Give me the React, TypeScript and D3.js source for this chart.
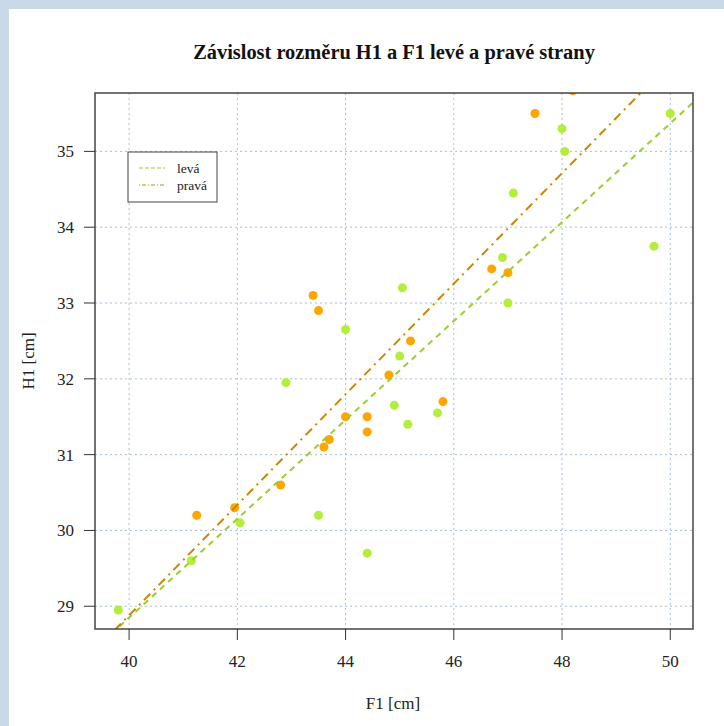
import * as d3 from 'd3'

// levá (left side) measurements
const leftF1 = [39.8, 41.15, 42.05, 42.9, 43.5, 44.0, 44.4, 44.9, 45.0, 45.05, 45.15, 45.7, 46.9, 47.0, 47.1, 48.0, 48.05, 49.7, 50.0]
const leftH1 = [28.95, 29.6, 30.1, 31.95, 30.2, 32.65, 29.7, 31.65, 32.3, 33.2, 31.4, 31.55, 33.6, 33.0, 34.45, 35.3, 35.0, 33.75, 35.5]

// pravá (right side) measurements
const rightF1 = [41.25, 41.95, 42.8, 43.4, 43.5, 43.6, 43.7, 44.0, 44.4, 44.4, 44.8, 45.2, 45.8, 46.7, 47.0, 47.5, 48.2]
const rightH1 = [30.2, 30.3, 30.6, 33.1, 32.9, 31.1, 31.2, 31.5, 31.5, 31.3, 32.05, 32.5, 31.7, 33.45, 33.4, 35.5, 35.8]

// regression lines: [intercept, slope]
const leftFit = [2.77, 0.652]
const rightFit = [-0.28, 0.729]

const xTicks = [40, 42, 44, 46, 48, 50]
const yTicks = [29, 30, 31, 32, 33, 34, 35]
const seriesNames = ['levá', 'pravá']

const W = 724
const H = 726
const plot = { left: 95, right: 693, top: 93, bottom: 629 }

export default function App() {
  const x = d3.scaleLinear().domain([39.37, 50.42]).range([plot.left, plot.right])
  const y = d3.scaleLinear().domain([28.7, 35.77]).range([plot.bottom, plot.top])
  const font = '"Liberation Serif", "Times New Roman", serif'

  const fitLine = (fit: number[]) => {
    const pts = x.domain().map((v) => [v, fit[0] + fit[1] * v] as [number, number])
    return d3.line<[number, number]>().x((d) => x(d[0])).y((d) => y(d[1]))(pts) || ''
  }

  const left = leftF1.map((v, i) => ({ f: v, h: leftH1[i] }))
  const right = rightF1.map((v, i) => ({ f: v, h: rightH1[i] }))

  return (
    <div style={{ position: 'absolute', left: 0, top: 0 }}>
      <svg width={W} height={H} style={{ display: 'block' }} fontFamily={font}>
        <rect x={0} y={0} width={W} height={H} fill="#c9d9ea" />
        <rect x={9} y={9} width={W - 9} height={H - 9} fill="#ffffff" />
        <defs>
          <clipPath id="plotclip">
            <rect x={plot.left} y={plot.top} width={plot.right - plot.left} height={plot.bottom - plot.top} />
          </clipPath>
        </defs>

        <text x={394} y={59} textAnchor="middle" fontSize={20.4} fontWeight="bold" fill="#111">
          Závislost rozměru H1 a F1 levé a pravé strany
        </text>

        {/* grid */}
        {xTicks.map((t) => (
          <line key={'gx' + t} x1={x(t)} x2={x(t)} y1={plot.top} y2={plot.bottom}
            stroke="#a9bdd6" strokeWidth={1} strokeDasharray="2,3" />
        ))}
        {yTicks.map((t) => (
          <line key={'gy' + t} x1={plot.left} x2={plot.right} y1={y(t)} y2={y(t)}
            stroke="#a9bdd6" strokeWidth={1} strokeDasharray="2,3" />
        ))}

        <g clipPath="url(#plotclip)">
          {left.map((d, i) => (
            <circle key={'l' + i} cx={x(d.f)} cy={y(d.h)} r={4.5} fill="#b3ee3a" />
          ))}
          {right.map((d, i) => (
            <circle key={'r' + i} cx={x(d.f)} cy={y(d.h)} r={4.5} fill="#ffa500" />
          ))}
          <path d={fitLine(leftFit)} fill="none" stroke="#9acd32" strokeWidth={2} strokeDasharray="6,5" />
          <path d={fitLine(rightFit)} fill="none" stroke="#cd8500" strokeWidth={2} strokeDasharray="2,5,9,5" />
        </g>

        <rect x={plot.left} y={plot.top} width={plot.right - plot.left} height={plot.bottom - plot.top}
          fill="none" stroke="#444" strokeWidth={1.5} />

        {/* axes */}
        {xTicks.map((t) => (
          <g key={'xt' + t}>
            <line x1={x(t)} x2={x(t)} y1={plot.bottom} y2={plot.bottom + 11} stroke="#333" />
            <text x={x(t)} y={667} textAnchor="middle" fontSize={17} fill="#222">{t}</text>
          </g>
        ))}
        {yTicks.map((t) => (
          <g key={'yt' + t}>
            <line x1={plot.left - 11} x2={plot.left} y1={y(t)} y2={y(t)} stroke="#333" />
            <text x={74} y={y(t) + 6} textAnchor="end" fontSize={17} fill="#222">{t}</text>
          </g>
        ))}

        <text x={393} y={709} textAnchor="middle" fontSize={17} fill="#222">F1 [cm]</text>
        <text transform={`translate(34,${(plot.top + plot.bottom) / 2}) rotate(-90)`} textAnchor="middle"
          fontSize={17} fill="#222">H1 [cm]</text>

        {/* legend */}
        <rect x={128} y={152} width={89} height={50} fill="#ffffff" stroke="#444" strokeWidth={1} />
        {seriesNames.map((name, i) => (
          <g key={name}>
            <line x1={139} x2={165} y1={168 + i * 17} y2={168 + i * 17}
              stroke={i === 0 ? '#9acd32' : '#cd8500'} strokeWidth={1}
              strokeDasharray={i === 0 ? '4,2' : '1,2,4,2'} />
            <text x={177} y={173 + i * 17} fontSize={13.5} fill="#222">{name}</text>
          </g>
        ))}
      </svg>
    </div>
  )
}
